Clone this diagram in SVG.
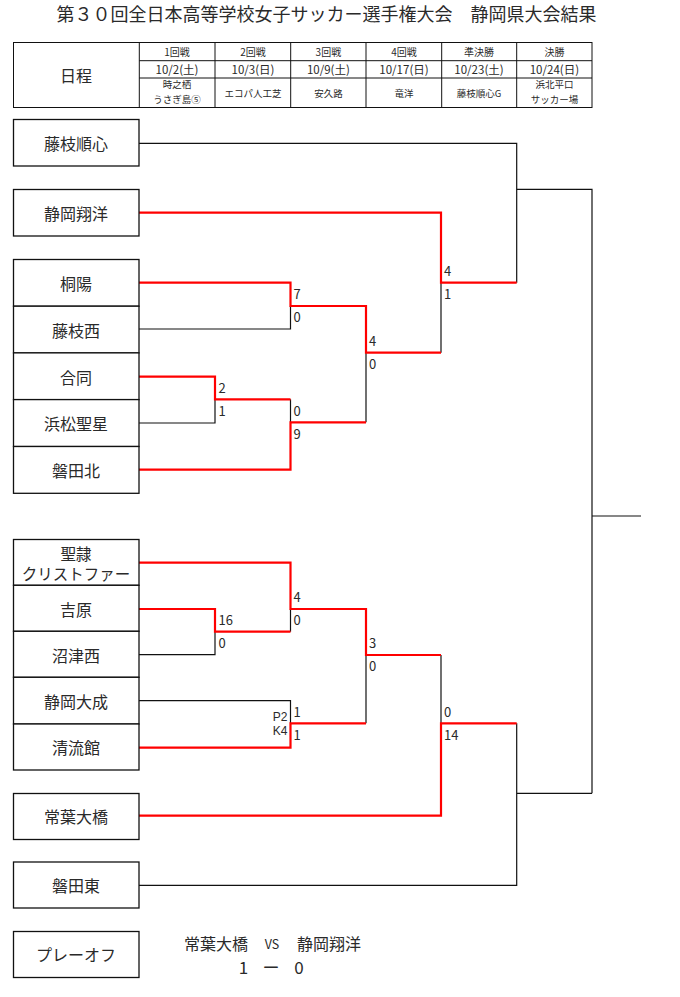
<svg xmlns="http://www.w3.org/2000/svg" width="680" height="997" viewBox="0 0 680 997">
<style>
text{font-family:"Noto Sans CJK JP","Noto Sans",sans-serif;fill:#2a2a2a;}
.c{text-anchor:middle;dominant-baseline:central;}
.title{font-size:18px;}
.hd{font-size:10px;}
.dt{font-size:11.5px;}
.vn{font-size:9.5px;}
.tm{font-size:16px;}
.sc{font-size:13px;}
.pk{font-family:"Liberation Sans",Arial,sans-serif;font-size:12px;text-anchor:end;}
.box{fill:#fff;stroke:#111;stroke-width:1.3;}
.bl{fill:none;stroke:#111;stroke-width:1.2;}
.rd{fill:none;stroke:#f00;stroke-width:2.2;}
.tb{stroke:#111;stroke-width:1;fill:none;}
</style>
<rect width="680" height="997" fill="#fff"/>
<text class="c title" x="326.5" y="13">第３０回全日本高等学校女子サッカー選手権大会　静岡県大会結果</text>

<g id="schedule">
<rect class="tb" x="13.5" y="42.5" width="578.5" height="65" stroke-width="1.3"/>
<path class="tb" d="M139.3 42.5V108M215 42.5V108M290.7 42.5V108M366 42.5V108M441.7 42.5V108M516.7 42.5V108M139.3 60.7H592M139.3 78H592"/>
<text class="c tm" x="76" y="75">日程</text>
<text class="c hd" x="177" y="51.5">1回戦</text>
<text class="c hd" x="253" y="51.5">2回戦</text>
<text class="c hd" x="328.4" y="51.5">3回戦</text>
<text class="c hd" x="404" y="51.5">4回戦</text>
<text class="c hd" x="479" y="51.5">準決勝</text>
<text class="c hd" x="554.4" y="51.5">決勝</text>
<text class="c dt" x="177" y="69.3">10/2(土)</text>
<text class="c dt" x="253" y="69.3">10/3(日)</text>
<text class="c dt" x="328.4" y="69.3">10/9(土)</text>
<text class="c dt" x="404" y="69.3">10/17(日)</text>
<text class="c dt" x="479" y="69.3">10/23(土)</text>
<text class="c dt" x="554.4" y="69.3">10/24(日)</text>
<text class="c vn" x="177" y="84">時之栖</text>
<text class="c vn" x="177" y="99">うさぎ島⑤</text>
<text class="c vn" x="253" y="92.5">エコパ人工芝</text>
<text class="c vn" x="328.4" y="92.5">安久路</text>
<text class="c vn" x="404" y="92.5">竜洋</text>
<text class="c vn" x="479" y="92.5">藤枝順心G</text>
<text class="c vn" x="554.4" y="84">浜北平口</text>
<text class="c vn" x="554.4" y="99">サッカー場</text>
</g>

<g id="connectors">
<path class="bl" d="M139 143.3H516.7V282.7"/>
<path class="bl" d="M516.7 189.3H592V793.3M592 516H641"/>
<path class="bl" d="M441 282.7V352.7"/>
<path class="bl" d="M139 329H290.5V306"/>
<path class="bl" d="M366 352.7V422.3"/>
<path class="bl" d="M139 423H215V399.3"/>
<path class="bl" d="M290.5 399.3V422.3"/>
<path class="bl" d="M290.5 609V631.7"/>
<path class="bl" d="M139 654.7H215V631.7"/>
<path class="bl" d="M139 700.7H290.5V723.3"/>
<path class="bl" d="M366 655V723.3"/>
<path class="bl" d="M441 655V723.3"/>
<path class="bl" d="M516.7 723.3V885.3H139M516.7 793.3H592"/>

<path class="rd" d="M139 212.7H441V282.7H516.7"/>
<path class="rd" d="M139 282.7H290.5V306H366V352.7H441"/>
<path class="rd" d="M139 376.7H215V399.3H290.5"/>
<path class="rd" d="M139 469.7H290.5V422.3H366"/>
<path class="rd" d="M139 562.7H290.5V609H366V655H441"/>
<path class="rd" d="M139 609H215V631.7H290.5"/>
<path class="rd" d="M139 747.7H290.5V723.3H366"/>
<path class="rd" d="M139 815.7H441V723.3H516.7"/>
</g>

<g id="scores">
<text class="sc" x="218.5" y="392.5">2</text>
<text class="sc" x="218.5" y="415.5">1</text>
<text class="sc" x="293.5" y="299">7</text>
<text class="sc" x="293.5" y="322">0</text>
<text class="sc" x="293.5" y="415.5">0</text>
<text class="sc" x="293.5" y="439">9</text>
<text class="sc" x="369" y="345.5">4</text>
<text class="sc" x="369" y="369">0</text>
<text class="sc" x="444" y="276">4</text>
<text class="sc" x="444" y="299">1</text>
<text class="sc" x="218.5" y="625">16</text>
<text class="sc" x="218.5" y="648">0</text>
<text class="sc" x="293.5" y="602">4</text>
<text class="sc" x="293.5" y="625">0</text>
<text class="sc" x="293.5" y="716.5">1</text>
<text class="sc" x="293.5" y="739.5">1</text>
<text class="pk" x="287.5" y="721">P2</text>
<text class="pk" x="287.5" y="735">K4</text>
<text class="sc" x="369" y="648">3</text>
<text class="sc" x="369" y="671">0</text>
<text class="sc" x="444" y="716.5">0</text>
<text class="sc" x="444" y="740">14</text>
</g>

<g id="n-fujiedajunshin"><rect class="box" x="13.5" y="119.5" width="125.5" height="46.5"/><text class="c tm" x="76" y="143">藤枝順心</text></g>
<g id="n-shizuokashoyo"><rect class="box" x="13.5" y="189.5" width="125.5" height="46.5"/><text class="c tm" x="76" y="213">静岡翔洋</text></g>
<g id="n-toyo"><rect class="box" x="13.5" y="259.5" width="125.5" height="46.7"/><text class="c tm" x="76" y="283">桐陽</text></g>
<g id="n-fujiedanishi"><rect class="box" x="13.5" y="306.2" width="125.5" height="46.7"/><text class="c tm" x="76" y="329.5">藤枝西</text></g>
<g id="n-godo"><rect class="box" x="13.5" y="352.9" width="125.5" height="46.7"/><text class="c tm" x="76" y="376.5">合同</text></g>
<g id="n-hamamatsuseisei"><rect class="box" x="13.5" y="399.6" width="125.5" height="46.9"/><text class="c tm" x="76" y="423">浜松聖星</text></g>
<g id="n-iwatakita"><rect class="box" x="13.5" y="446.5" width="125.5" height="46.8"/><text class="c tm" x="76" y="470">磐田北</text></g>

<g id="n-seirei"><rect class="box" x="13.5" y="539.5" width="125.5" height="45.8"/><text class="c" x="76" y="553" font-size="15.5">聖隷</text><text class="c" x="76" y="573" font-size="15.5">クリストファー</text></g>
<g id="n-yoshiwara"><rect class="box" x="13.5" y="585.3" width="125.5" height="46"/><text class="c tm" x="76" y="608.5">吉原</text></g>
<g id="n-numazunishi"><rect class="box" x="13.5" y="631.3" width="125.5" height="46"/><text class="c tm" x="76" y="654.5">沼津西</text></g>
<g id="n-shizuokataisei"><rect class="box" x="13.5" y="677.3" width="125.5" height="46.7"/><text class="c tm" x="76" y="700.5">静岡大成</text></g>
<g id="n-seiryukan"><rect class="box" x="13.5" y="724" width="125.5" height="46"/><text class="c tm" x="76" y="747">清流館</text></g>

<g id="n-tokohaohashi"><rect class="box" x="13.5" y="793.5" width="125.5" height="46"/><text class="c tm" x="76" y="816">常葉大橋</text></g>
<g id="n-iwatahigashi"><rect class="box" x="13.5" y="862" width="125.5" height="46"/><text class="c tm" x="76" y="885">磐田東</text></g>

<g id="n-playoff"><rect class="box" x="13.5" y="931.5" width="125.5" height="46"/><text class="c tm" x="76" y="953.5">プレーオフ</text></g>
<g id="playoff-result">
<text class="tm" x="184" y="942.5" dominant-baseline="central">常葉大橋</text>
<text class="c" x="272" y="943" font-size="12.5">VS</text>
<text class="tm" x="297" y="942.5" dominant-baseline="central">静岡翔洋</text>
<text class="c" x="243.5" y="966.5" font-size="17">1</text>
<text class="c" x="271" y="966.5" font-size="17">ー</text>
<text class="c" x="299" y="966.5" font-size="17">0</text>
</g>
</svg>
